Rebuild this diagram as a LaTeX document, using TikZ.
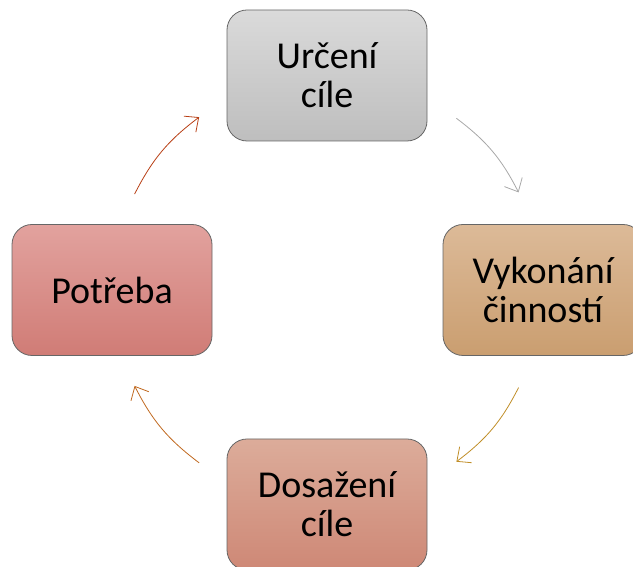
\documentclass[tikz,border=0pt]{standalone}
\usepackage{fontspec}
\setmainfont{Carlito}
\usetikzlibrary{arrows.meta,calc}

\definecolor{grayTop}{RGB}{218,218,218}
\definecolor{grayBot}{RGB}{190,190,190}
\definecolor{tanTop}{RGB}{220,186,152}
\definecolor{tanBot}{RGB}{202,158,112}
\definecolor{roseTop}{RGB}{226,162,158}
\definecolor{roseBot}{RGB}{208,124,118}
\definecolor{salmonTop}{RGB}{220,172,154}
\definecolor{salmonBot}{RGB}{206,136,118}
\definecolor{arcGray}{RGB}{168,168,168}
\definecolor{arcGold}{RGB}{192,142,40}
\definecolor{arcOrange}{RGB}{192,104,30}
\definecolor{arcRust}{RGB}{184,64,22}

\tikzset{
  stage/.style={rounded corners=20pt, draw=black!60, line width=0.8pt,
    minimum width=200pt, minimum height=131pt, align=center,
    font=\fontsize{38}{39}\selectfont},
  cyc/.style={line width=0.8pt, -{Straight Barb[length=11pt,width=20pt]}}
}

\begin{document}
\begin{tikzpicture}[x=1pt,y=1pt]
    % Frame of the picture
    \useasboundingbox (0,0) rectangle (633,567);
    \clip (0,0) rectangle (633,567);

    % Centre of the cycle
    \coordinate (hub) at (327,277);

    % Four stages
    \node[stage, top color=grayTop, bottom color=grayBot] (urceni) at (327,491.5) {Určení\\cíle};
    \node[stage, top color=tanTop, bottom color=tanBot] (vykonani) at (543,277) {Vykonání\\činností};
    \node[stage, top color=salmonTop, bottom color=salmonBot] (dosazeni) at (327,62.5) {Dosažení\\cíle};
    \node[stage, top color=roseTop, bottom color=roseBot] (potreba) at (112,277) {Potřeba};

    % End points of the arcs
    \coordinate (a1) at ($(hub)+(53:215)$);
    \coordinate (b1) at ($(hub)+(27:215)$);
    \coordinate (a2) at ($(hub)+(-27:215)$);
    \coordinate (b2) at ($(hub)+(-53:215)$);
    \coordinate (a3) at ($(hub)+(-126.5:215)$);
    \coordinate (b3) at ($(hub)+(-153.5:215)$);
    \coordinate (a4) at ($(hub)+(153.5:215)$);
    \coordinate (b4) at ($(hub)+(126.5:215)$);

    % Arrows round the cycle
    \draw[cyc, arcGray] (a1) to[bend left=13] (b1);
    \draw[cyc, arcGold] (a2) to[bend left=13] (b2);
    \draw[cyc, arcOrange] (a3) to[bend left=13] (b3);
    \draw[cyc, arcRust] (a4) to[bend left=13] (b4);
\end{tikzpicture}
\end{document}
